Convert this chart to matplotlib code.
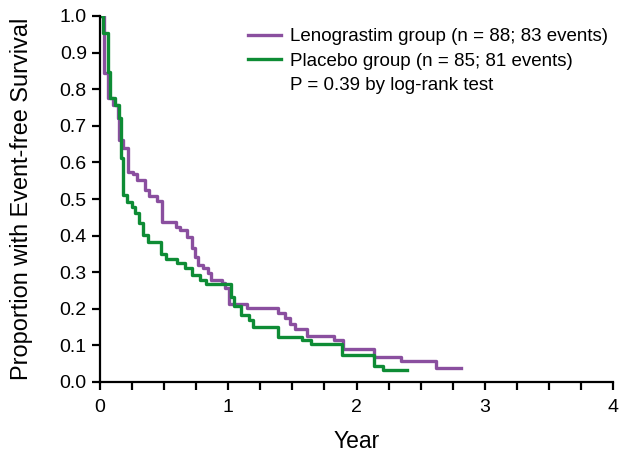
import matplotlib
matplotlib.use("Agg")
import matplotlib.pyplot as plt
import numpy as np

plt.rcParams['font.family'] = ['Liberation Sans', 'DejaVu Sans']

# Lenograstim group: event times (years) and survival after each drop
leno_t = [0.0, 0.031, 0.062, 0.104, 0.138, 0.152, 0.177, 0.221, 0.260, 0.292, 0.347,
          0.382, 0.448, 0.481, 0.596, 0.620, 0.682, 0.719, 0.737, 0.768, 0.800,
          0.842, 0.865, 0.949, 0.974, 1.009, 1.146, 1.387, 1.442, 1.481, 1.520,
          1.613, 1.828, 1.898, 2.133, 2.348, 2.619, 2.814]
leno_s = [1.0, 0.843, 0.775, 0.757, 0.720, 0.661, 0.638, 0.574, 0.568, 0.552, 0.525,
          0.508, 0.495, 0.438, 0.424, 0.415, 0.397, 0.367, 0.342, 0.320, 0.311,
          0.297, 0.279, 0.270, 0.256, 0.213, 0.201, 0.189, 0.174, 0.158, 0.145,
          0.126, 0.115, 0.089, 0.067, 0.058, 0.037, 0.037]

# Placebo group
plac_t = [0.0, 0.021, 0.060, 0.078, 0.117, 0.148, 0.164, 0.179, 0.213, 0.247, 0.273,
          0.306, 0.337, 0.372, 0.473, 0.514, 0.598, 0.663, 0.721, 0.782, 0.826,
          1.021, 1.044, 1.103, 1.165, 1.193, 1.387, 1.574, 1.645, 1.886, 2.140,
          2.210, 2.393]
plac_s = [1.0, 0.953, 0.848, 0.775, 0.757, 0.720, 0.611, 0.511, 0.493, 0.479, 0.461,
          0.435, 0.402, 0.383, 0.350, 0.337, 0.326, 0.311, 0.292, 0.279, 0.268,
          0.233, 0.208, 0.183, 0.170, 0.151, 0.124, 0.115, 0.104, 0.074, 0.044,
          0.033, 0.033]

legend_labels = ["Lenograstim group (n = 88; 83 events)",
                 "Placebo group (n = 85; 81 events)"]
pvalue_text = "P = 0.39 by log-rank test"

purple = "#8A4F9F"
green = "#0E8C35"

W, H = 619, 457
fig = plt.figure(figsize=(W/100, H/100), dpi=100)
ax = fig.add_axes([100/W, 75/H, 513/W, 366/H])

ax.step(leno_t, leno_s, where='post', color=purple, lw=2.4, label=legend_labels[0])
ax.step(plac_t, plac_s, where='post', color=green, lw=2.4, label=legend_labels[1])

ax.set_xlim(0, 4)
ax.set_ylim(0, 1.0)
ax.set_xticks([0, 1, 2, 3, 4])
ax.set_xticks(np.arange(0, 4.01, 0.25), minor=True)
ax.set_yticks(np.round(np.arange(0, 1.01, 0.1), 1))
ax.set_yticklabels([f"{v:.1f}" for v in np.arange(0, 1.01, 0.1)])
for s in ['top', 'right']:
    ax.spines[s].set_visible(False)
for s in ['left', 'bottom']:
    ax.spines[s].set_linewidth(1.6)
ax.tick_params(axis='both', which='both', direction='out', width=1.6, length=6,
               labelsize=14, colors='black')
ax.tick_params(axis='x', which='major', pad=6)
ax.set_xlabel("Year", fontsize=16.5)
ax.set_ylabel("Proportion with Event-free Survival", fontsize=16.9)
ax.xaxis.set_label_coords(0.5, (382 - 430) / 366)
ax.yaxis.set_label_coords((33 - 100) / 513, (382 - 199) / 366)

fs = 13.5
leg = fig.legend(loc='upper left', bbox_to_anchor=(248/W, (H - 28)/H), frameon=False,
                 fontsize=fs, handlelength=1.75, handletextpad=0.5, labelspacing=0.4,
                 borderaxespad=0, borderpad=0)
fig.text(290/W, (H - 86)/H, pvalue_text, fontsize=fs, va='center', ha='left')

fig.savefig("out.png", dpi=100)
